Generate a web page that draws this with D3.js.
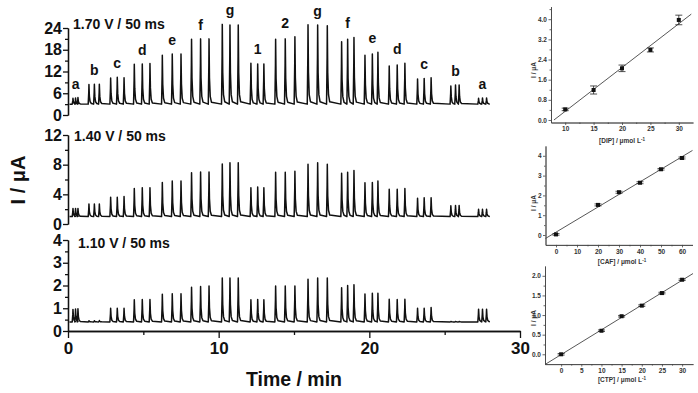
<!DOCTYPE html>
<html><head><meta charset="utf-8">
<script src="https://cdn.jsdelivr.net/npm/d3@7"></script>
<style>
body { margin: 0; background: #fff; }
svg { display: block; font-family: "Liberation Sans", Arial, sans-serif; font-weight: bold; }
</style></head>
<body><svg id="chart" width="698" height="393"></svg>
<script>
// injection order: standards a..g, samples 1 and 2, standards g..a
const groups = ["a","b","c","d","e","f","g","1","2","g","f","e","d","c","b","a"];

// peak times (min), three injections each
const peakTimes = [
  [0.33,0.5,0.66], [1.39,1.75,2.08], [2.83,3.27,3.72], [4.4,4.93,5.44],
  [6.26,6.92,7.5], [8.2,8.8,9.36], [10.24,10.75,11.3], [12.14,12.59,13.0],
  [13.78,14.42,15.06], [15.93,16.57,17.21], [18.16,18.56,18.98], [19.71,20.2,20.57],
  [21.32,21.85,22.36], [23.2,23.64,24.1], [25.41,25.72,25.96], [27.25,27.51,27.78]
];

// peak tops (uA) at each potential
const peaks170 = [
  [4.6,4.7,4.8], [8.4,8.5,8.5], [10.2,10.4,10.3], [14.0,14.1,14.2],
  [16.5,16.8,16.8], [20.9,21.0,21.0], [25.0,24.8,24.8], [14.3,14.1,14.1],
  [20.9,21.0,21.6], [24.9,24.8,24.6], [20.2,20.9,21.4], [16.5,16.8,17.3],
  [13.5,13.8,14.3], [9.9,10.1,10.3], [8.0,8.3,8.3], [4.6,4.7,4.7]
];
const peaks140 = [
  [2.1,2.1,2.1], [2.7,2.7,2.7], [3.6,3.6,3.7], [4.8,4.9,4.9],
  [5.6,5.8,5.8], [6.9,7.0,7.0], [8.1,8.26,8.26], [4.9,5.0,4.9],
  [6.97,6.97,7.1], [8.05,8.26,8.05], [6.83,6.97,7.2], [5.57,5.6,5.8],
  [4.67,4.7,4.8], [3.46,3.55,3.55], [2.47,2.5,2.5], [1.98,1.98,1.98]
];
const peaks110 = [
  [0.95,0.97,0.98], [0.45,0.45,0.46], [1.0,1.0,1.0], [1.37,1.38,1.38],
  [1.62,1.64,1.64], [1.92,1.96,1.98], [2.33,2.33,2.33], [1.37,1.39,1.37],
  [1.98,1.98,1.98], [2.28,2.33,2.33], [1.9,2.0,2.03], [1.63,1.66,1.66],
  [1.4,1.38,1.4], [1.0,1.0,1.03], [0.42,0.42,0.42], [0.96,0.96,0.96]
];
const baselines = [3.0, 1.0, 0.4];
const potentials = ["1.70 V / 50 ms", "1.40 V / 50 ms", "1.10 V / 50 ms"];

// calibration data
const dipConc = [10, 15, 20, 25, 30];
const dipI    = [0.42, 1.19, 2.05, 2.78, 3.97];
const dipErr  = [0.05, 0.16, 0.13, 0.08, 0.19];
const cafConc = [0, 20, 30, 40, 50, 60];
const cafI    = [0.03, 1.52, 2.16, 2.64, 3.32, 3.89];
const cafErr  = [0.04, 0.05, 0.05, 0.05, 0.04, 0.05];
const ctpConc = [0, 10, 15, 20, 25, 30];
const ctpI    = [0.0, 0.60, 0.97, 1.24, 1.56, 1.90];
const ctpErr  = [0.02, 0.02, 0.02, 0.02, 0.02, 0.02];

const svg = d3.select("#chart");

// ---------- main amperogram ----------
const x = d3.scaleLinear().domain([0, 30]).range([68, 520]);

const panels = [
  { peaks: peaks170, base: baselines[0], y: d3.scaleLinear().domain([0, 24]).range([115, 28]),
    major: [0,6,12,18,24], minor: [3,9,15,21], label: potentials[0], lx: 73, ly: 29 },
  { peaks: peaks140, base: baselines[1], y: d3.scaleLinear().domain([0, 12]).range([224, 135]),
    major: [0,4,8,12], minor: [2,6,10], label: potentials[1], lx: 74, ly: 141 },
  { peaks: peaks110, base: baselines[2], y: d3.scaleLinear().domain([0, 4]).range([331, 240]),
    major: [0,1,2,3,4], minor: [0.5,1.5,2.5,3.5], label: potentials[2], lx: 78, ly: 248 }
];

// turn each peak (time, top) into a sharp spike with a short tail
function tracePoints(peaks, base) {
  const pts = [[0.1, base]];
  peakTimes.forEach((ts, gi) => {
    ts.forEach((t, k) => {
      const h = peaks[gi][k] - base;
      pts.push([t - 0.05, base], [t - 0.012, base + h * 0.6], [t, base + h],
               [t + 0.03, base + h * 0.4], [t + 0.08, base + h * 0.12], [t + 0.16, base + h * 0.03]);
    });
  });
  pts.push([28, base]);
  return pts;
}

panels.forEach(p => {
  const g = svg.append("g");
  const line = d3.line().x(d => x(d[0])).y(d => p.y(d[1]));
  g.append("path")
    .attr("d", line(tracePoints(p.peaks, p.base)))
    .attr("fill", "none").attr("stroke", "#111").attr("stroke-width", 1.5)
    .attr("stroke-linejoin", "round");

  const minorAxis = d3.axisLeft(p.y).tickValues(p.minor).tickSize(3).tickSizeOuter(0).tickFormat("");
  const majorAxis = d3.axisLeft(p.y).tickValues(p.major).tickSize(5).tickSizeOuter(0).tickPadding(1)
    .tickFormat(d3.format("d"));
  g.append("g").attr("transform", "translate(68,0)").call(minorAxis);
  g.append("g").attr("transform", "translate(68,0)").call(majorAxis)
    .call(a => a.selectAll("text").attr("font-size", 16).attr("font-weight", "bold").attr("fill", "#111"));
  g.selectAll(".domain, .tick line").attr("stroke", "#111").attr("stroke-width", 1.3);

  g.append("text").attr("x", p.lx).attr("y", p.ly)
    .attr("font-size", 14).attr("fill", "#111").text(p.label);
});

// letters over the top trace
svg.append("g").selectAll("text")
  .data(groups)
  .join("text")
  .attr("x", (d, i) => x(peakTimes[i][1]))
  .attr("y", (d, i) => panels[0].y(d3.max(peaks170[i])) - 9)
  .attr("text-anchor", "middle")
  .attr("font-size", 14).attr("fill", "#111")
  .text(d => d);

// time axis
const xMinor = d3.axisBottom(x).tickValues([5,15,25]).tickSize(4).tickSizeOuter(0).tickFormat("");
const xMajor = d3.axisBottom(x).tickValues([0,10,20,30]).tickSize(7).tickSizeOuter(0).tickPadding(4);
svg.append("g").attr("transform", "translate(0,331)").call(xMinor);
svg.append("g").attr("transform", "translate(0,331)").call(xMajor)
  .call(a => a.selectAll("text").attr("font-size", 17).attr("font-weight", "bold").attr("fill", "#111"));
svg.selectAll(".domain, .tick line").attr("stroke", "#111").attr("stroke-width", 1.3);

svg.append("text").attr("x", 294).attr("y", 386).attr("text-anchor", "middle")
  .attr("font-size", 19.5).attr("fill", "#111").text("Time / min");
svg.append("text").attr("transform", "translate(25,180) rotate(-90)").attr("text-anchor", "middle")
  .attr("font-size", 20).attr("fill", "#111").text("I / μA");

// ---------- calibration plots ----------
const calib = [
  { conc: dipConc, cur: dipI, err: dipErr, name: "DIP",
    x: d3.scaleLinear().domain([7.5, 32.5]).range([551, 693]),
    y: d3.scaleLinear().domain([-0.1, 4.5]).range([122.5, 6.6]),
    xt: [10,15,20,25,30], xm: [12.5,17.5,22.5,27.5], yt: [0,0.8,1.6,2.4,3.2,4.0], ym: [0.4,1.2,2.0,2.8,3.6,4.4],
    yf: ".1f", fit: [null, 32.2], titleY: 143, ylabY: 70 },
  { conc: cafConc, cur: cafI, err: cafErr, name: "CAF",
    x: d3.scaleLinear().domain([-5, 65]).range([545.5, 692.5]),
    y: d3.scaleLinear().domain([-0.5, 4.5]).range([244.9, 145.9]),
    xt: [0,10,20,30,40,50,60], xm: [5,15,25,35,45,55], yt: [0,1,2,3,4], ym: [0.5,1.5,2.5,3.5],
    yf: "d", fit: [-5, 65], titleY: 264, ylabY: 203 },
  { conc: ctpConc, cur: ctpI, err: ctpErr, name: "CTP",
    x: d3.scaleLinear().domain([-4, 32.7]).range([545, 693]),
    y: d3.scaleLinear().domain([-0.25, 2.25]).range([364.1, 266]),
    xt: [0,5,10,15,20,25,30], xm: [2.5,7.5,12.5,17.5,22.5,27.5], yt: [0,0.5,1,1.5,2], ym: [0.25,0.75,1.25,1.75],
    yf: ".1f", fit: [-4, 32.7], titleY: 382, ylabY: 318 }
];

calib.forEach(c => {
  const g = svg.append("g").attr("font-size", 6.5).attr("fill", "#333");
  const [x0] = c.x.range();
  const [y0] = c.y.range();

  // least squares line
  const mx = d3.mean(c.conc), my = d3.mean(c.cur);
  const slope = d3.sum(c.conc, (v, i) => (v - mx) * (c.cur[i] - my)) / d3.sum(c.conc, v => (v - mx) ** 2);
  const icpt = my - slope * mx;
  const fx0 = c.fit[0] == null ? -icpt / slope : c.fit[0];
  g.append("line")
    .attr("x1", c.x(fx0)).attr("y1", c.y(icpt + slope * fx0))
    .attr("x2", c.x(c.fit[1])).attr("y2", c.y(icpt + slope * c.fit[1]))
    .attr("stroke", "#444").attr("stroke-width", 0.9);

  const ax = (axis) => axis.tickSizeOuter(0);
  g.append("g").attr("transform", `translate(0,${y0})`)
    .call(ax(d3.axisBottom(c.x).tickValues(c.xm).tickSize(1.5).tickFormat("")));
  g.append("g").attr("transform", `translate(0,${y0})`)
    .call(ax(d3.axisBottom(c.x).tickValues(c.xt).tickSize(2.5).tickPadding(1.5)));
  g.append("g").attr("transform", `translate(${x0},0)`)
    .call(ax(d3.axisLeft(c.y).tickValues(c.ym).tickSize(1.5).tickFormat("")));
  g.append("g").attr("transform", `translate(${x0},0)`)
    .call(ax(d3.axisLeft(c.y).tickValues(c.yt).tickSize(2.5).tickPadding(1.5).tickFormat(d3.format(c.yf))));
  g.selectAll("text").attr("font-size", 6.5).attr("font-weight", "bold").attr("fill", "#333").attr("font-family", null);
  g.selectAll(".domain, .tick line").attr("stroke", "#444").attr("stroke-width", 0.8);

  // error bars and points
  const pts = g.append("g").selectAll("g").data(c.conc).join("g");
  pts.append("line")
    .attr("x1", d => c.x(d)).attr("x2", d => c.x(d))
    .attr("y1", (d, i) => c.y(c.cur[i] - c.err[i])).attr("y2", (d, i) => c.y(c.cur[i] + c.err[i]))
    .attr("stroke", "#222").attr("stroke-width", 0.8);
  [-1, 1].forEach(s => {
    pts.append("line")
      .attr("x1", d => c.x(d) - 3.5).attr("x2", d => c.x(d) + 3.5)
      .attr("y1", (d, i) => c.y(c.cur[i] + s * c.err[i])).attr("y2", (d, i) => c.y(c.cur[i] + s * c.err[i]))
      .attr("stroke", "#222").attr("stroke-width", 0.8);
  });
  pts.append("rect")
    .attr("x", d => c.x(d) - 2).attr("y", (d, i) => c.y(c.cur[i]) - 2)
    .attr("width", 4).attr("height", 4).attr("fill", "#111");

  const t = g.append("text").attr("x", 622).attr("y", c.titleY).attr("text-anchor", "middle")
    .attr("font-size", 6.5).attr("fill", "#333");
  t.append("tspan").text(`[${c.name}] / μmol L`);
  t.append("tspan").attr("dy", -2.5).attr("font-size", 4.5).text("-1");

  g.append("text").attr("transform", `translate(536,${c.ylabY}) rotate(-90)`).attr("text-anchor", "middle")
    .attr("font-size", 6.5).attr("fill", "#333").text("I / μA");
});
</script>
</body></html>
